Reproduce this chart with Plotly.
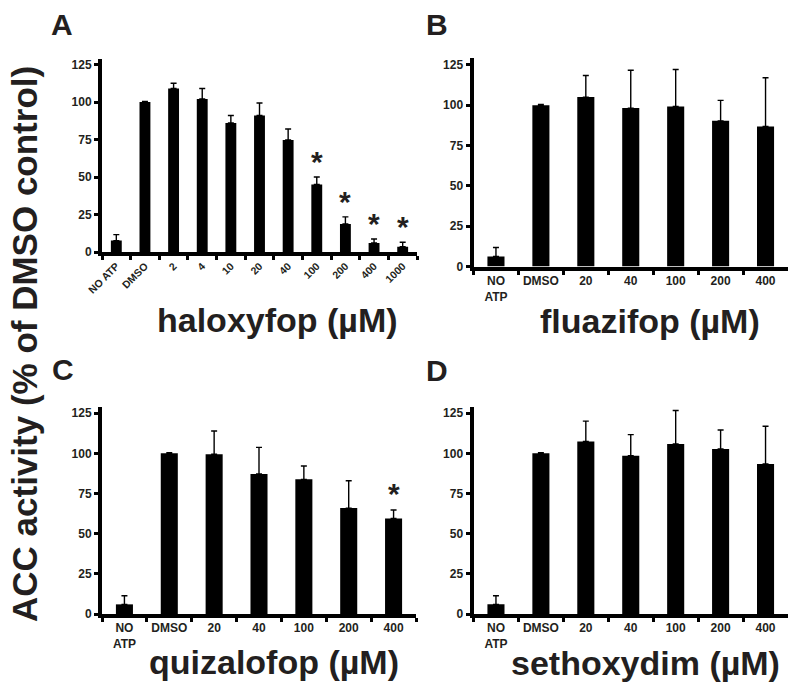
import plotly.graph_objects as go

# panel A: haloxyfop
a_cats = ['NO ATP', 'DMSO', '2', '4', '10', '20', '40', '100', '200', '400', '1000']
a_vals = [7.6, 100, 109, 102, 86, 91, 74.7, 45, 18.7, 6, 3.5]
a_errs = [4, 0.4, 3.5, 7, 5, 8.3, 7.3, 5, 4.7, 2.7, 3]
a_sig = ['100', '200', '400', '1000']

# panels B-D share the same categories
bcd_cats = ['NO<br>ATP', 'DMSO', '20', '40', '100', '200', '400']

b_vals = [6.2, 100, 105, 98.2, 99.2, 90.3, 86.8]
b_errs = [5.6, 0.4, 13.4, 23.5, 22.9, 12.7, 30.2]
b_sig = []

c_vals = [6, 100, 99.4, 87.1, 83.8, 65.9, 59.5]
c_errs = [5.4, 0.4, 14.5, 16.6, 8.3, 17, 5.2]
c_sig = ['400']

d_vals = [6, 100, 107.3, 98.5, 105.8, 102.7, 93.4]
d_errs = [5.4, 0.4, 12.7, 13.1, 20.8, 11.8, 23.4]
d_sig = []

y_ticks = [0, 25, 50, 75, 100, 125]

W, H = 800, 698
FONT = 'Liberation Sans, Arial, sans-serif'
TXT = '#231f20'


def px_x(p):
    return p / W


def px_y(p):
    return 1 - p / H


panels = [
    dict(letter='A', drug='haloxyfop', cats=a_cats, vals=a_vals, errs=a_errs, sig=a_sig,
         xd=(102, 417), yd=(58.5, 252), angle=-45, title=(277, 320), lpos=(62, 24)),
    dict(letter='B', drug='fluazifop', cats=bcd_cats, vals=b_vals, errs=b_errs, sig=b_sig,
         xd=(473.5, 788), yd=(58.4, 266.5), angle=0, title=(650, 321), lpos=(437, 24)),
    dict(letter='C', drug='quizalofop', cats=bcd_cats, vals=c_vals, errs=c_errs, sig=c_sig,
         xd=(102, 416), yd=(406.7, 614), angle=0, title=(274, 662), lpos=(63, 369)),
    dict(letter='D', drug='sethoxydim', cats=bcd_cats, vals=d_vals, errs=d_errs, sig=d_sig,
         xd=(473.5, 788), yd=(406.7, 614), angle=0, title=(645, 663), lpos=(437, 370)),
]

fig = go.Figure()
annotations = []
layout_axes = {}

for i, p in enumerate(panels, start=1):
    sfx = '' if i == 1 else str(i)
    xa, ya = 'x' + sfx, 'y' + sfx

    fig.add_trace(go.Bar(
        x=p['cats'], y=p['vals'],
        xaxis=xa, yaxis=ya,
        width=0.38,
        marker=dict(color='black', line=dict(width=0)),
        error_y=dict(type='data', symmetric=False, array=p['errs'],
                     arrayminus=[0] * len(p['errs']),
                     color='black', thickness=1.4, width=3),
        showlegend=False,
    ))

    tick_size = 10.5 if p['angle'] else 12
    layout_axes['xaxis' + sfx] = dict(
        domain=[px_x(p['xd'][0]), px_x(p['xd'][1])],
        anchor=ya, type='category', automargin=False,
        range=[-0.5, len(p['cats']) - 0.5],
        showline=True, linewidth=4, linecolor='black',
        ticks='outside', tickson='boundaries', ticklen=4, tickwidth=3, tickcolor='black',
        tickangle=p['angle'],
        tickfont=dict(family=FONT, size=tick_size, color=TXT, weight='bold'),
        showgrid=False, zeroline=False, fixedrange=True,
    )
    layout_axes['yaxis' + sfx] = dict(
        domain=[px_y(p['yd'][1]), px_y(p['yd'][0])],
        anchor=xa, range=[0, 129], automargin=False,
        tickvals=y_ticks,
        showline=True, linewidth=4, linecolor='black',
        ticks='outside', ticklen=4, tickwidth=3, tickcolor='black',
        tickfont=dict(family=FONT, size=12, color=TXT, weight='bold'),
        showgrid=False, zeroline=False, fixedrange=True,
    )

    # significance stars above the error bars (x given as category index)
    for cat in p['sig']:
        k = p['cats'].index(cat)
        annotations.append(dict(
            x=k, y=p['vals'][k] + p['errs'][k] + 13, xref=xa, yref=ya,
            text='*', showarrow=False, yanchor='middle', yshift=-4,
            font=dict(family=FONT, size=30, color=TXT, weight='bold'),
        ))

    # x-axis title
    annotations.append(dict(
        x=px_x(p['title'][0]), y=px_y(p['title'][1]), xref='paper', yref='paper',
        text=f"{p['drug']} (µM)", showarrow=False, xanchor='center', yanchor='middle',
        font=dict(family=FONT, size=34, color=TXT, weight='bold'),
    ))
    # panel letter
    annotations.append(dict(
        x=px_x(p['lpos'][0]), y=px_y(p['lpos'][1]), xref='paper', yref='paper',
        text=p['letter'], showarrow=False, xanchor='center', yanchor='middle',
        font=dict(family=FONT, size=30, color=TXT, weight='bold'),
    ))

# shared y title
annotations.append(dict(
    x=px_x(24), y=px_y(344), xref='paper', yref='paper',
    text='ACC activity (% of DMSO control)', showarrow=False, textangle=-90,
    xanchor='center', yanchor='middle',
    font=dict(family=FONT, size=35, color=TXT, weight='bold'),
))

fig.update_layout(
    width=W, height=H,
    margin=dict(l=0, r=0, t=0, b=0),
    paper_bgcolor='white', plot_bgcolor='white',
    bargap=0.62,
    annotations=annotations,
    **layout_axes,
)

# drop the page's default body margin so the figure sits at the window origin
fig.write_html("out.html", config={'displayModeBar': False},
               post_script="document.body.style.margin = '0';")
